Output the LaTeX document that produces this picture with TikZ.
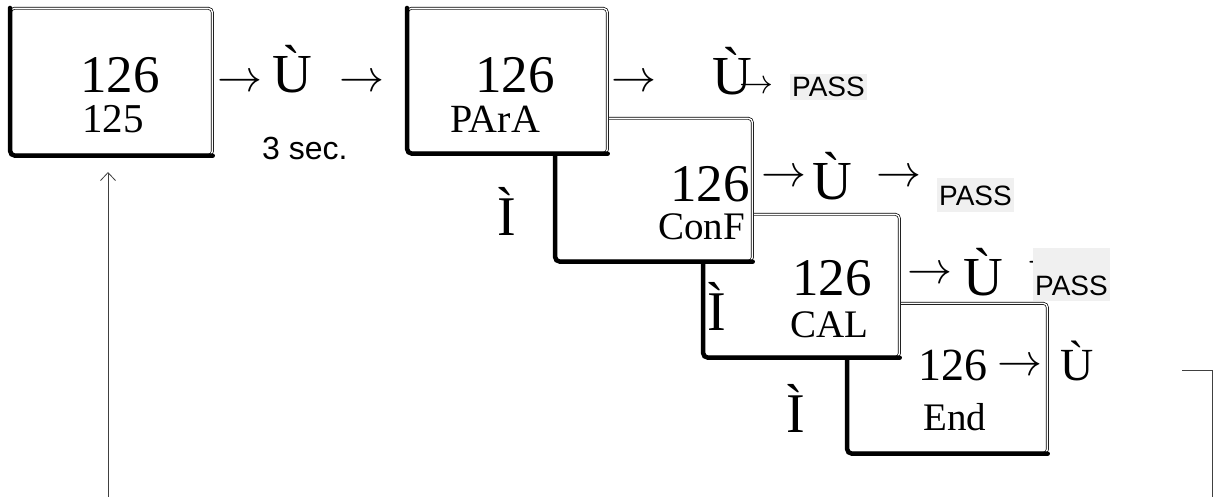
\documentclass[tikz,border=0pt]{standalone}
\usepackage{fix-cm}
\usepackage{fontspec}
\setmainfont{Liberation Serif}
\newfontfamily\labelfont{Liberation Sans}
\usetikzlibrary{arrows.meta}
\definecolor{passgray}{RGB}{240,240,240}

\begin{document}
\begin{tikzpicture}[
    x=1pt, y=-1pt,
    % Define display box style
    display/.style={rectangle, draw, fill=white, double, double distance=1.4pt, line width=0.7pt, rounded corners=4pt, anchor=north west, inner sep=0pt},
    % Define heavy edge style (left and bottom of a box)
    heavy/.style={line width=4.5pt, rounded corners=5pt, line cap=round},
    % Define text styles
    big/.style={inner sep=0pt, anchor=base west, font=\fontsize{53}{53}\selectfont},
    key/.style={inner sep=0pt, anchor=base west, font=\fontsize{55}{55}\selectfont},
    med/.style={inner sep=0pt, anchor=base west, font=\fontsize{46}{46}\selectfont},
    small/.style={inner sep=0pt, anchor=base west, font=\fontsize{39}{39}\selectfont},
    sec/.style={inner sep=0pt, anchor=base west, font=\labelfont\fontsize{32}{32}\selectfont},
    arr/.style={inner sep=0pt, anchor=west, font=\fontsize{45}{45}\selectfont},
    pass/.style={fill=passgray, inner xsep=2pt, inner ysep=0pt, anchor=base west, font=\labelfont\fontsize{28}{28}\selectfont},
    % Define loop line style
    feed/.style={line width=0.8pt, black!75}
]
    \useasboundingbox (0,0) rectangle (1215,497);

    % Boxes (back to front)
    \node[display, minimum width=200pt, minimum height=150pt] (endbox) at (847,303) {};
    \draw[heavy] (endbox.north west) -- (endbox.south west) -- (endbox.south east);
    \node[display, minimum width=196pt, minimum height=143pt] (calbox) at (703,214) {};
    \draw[heavy] (calbox.north west) -- (calbox.south west) -- (calbox.south east);
    \node[display, minimum width=197pt, minimum height=143pt] (confbox) at (555,118) {};
    \draw[heavy] (confbox.north west) -- (confbox.south west) -- (confbox.south east);
    \node[display, minimum width=200pt, minimum height=145pt] (parabox) at (407,8) {};
    \draw[heavy] (parabox.north west) -- (parabox.south west) -- (parabox.south east);
    \node[display, minimum width=202pt, minimum height=147pt] (startbox) at (10,8) {};
    \draw[heavy] (startbox.north west) -- (startbox.south west) -- (startbox.south east);

    % Start display
    \node[big] (startval) at (80,93) {126};
    \node[small, font=\fontsize{41}{41}\selectfont] (startsub) at (82,133) {125};
    \node[arr] (arrA) at (217,83) {$\rightarrow$};
    \node[key] (btnA) at (272,93) {Ù};
    \node[arr] (arrB) at (339,83) {$\rightarrow$};
    \node[sec] (hold) at (262,160) {3 sec.};

    % PArA
    \node[big] (paraval) at (475,93) {126};
    \node[small, font=\fontsize{40}{40}\selectfont] (paralbl) at (450,133) {PArA};
    \node[arr] (arrC) at (611,83) {$\rightarrow$};
    \node[key] (btnC) at (712,95) {Ù};
    \node[arr, font=\fontsize{34}{34}\selectfont] (arrD) at (739,87) {$\rightarrow$};
    \node[pass, text height=23pt, text depth=3pt] (passA) at (790,97) {PASS};

    % ConF
    \node[big] (confval) at (670,202) {126};
    \node[small] (conflbl) at (658,240) {ConF};
    \node[key, font=\fontsize{56}{56}\selectfont] (downA) at (497,235) {Ì};
    \node[arr] (arrE) at (761,178) {$\rightarrow$};
    \node[key] (btnE) at (812,200) {Ù};
    \node[arr] (arrF) at (876,178) {$\rightarrow$};
    \node[pass, text height=28pt, text depth=6pt] (passB) at (937,206) {PASS};

    % CAL
    \node[big] (calval) at (792,295) {126};
    \node[small] (callbl) at (790,337) {CAL};
    \node[key, font=\fontsize{56}{56}\selectfont] (downB) at (707,330) {Ì};
    \node[arr] (arrG) at (907,275) {$\rightarrow$};
    \node[key] (btnG) at (963,295) {Ù};
    \node[arr] (arrH) at (1027,265) {$\rightarrow$};
    \node[pass, text height=47pt, text depth=6pt] (passC) at (1033,295) {PASS};

    % End
    \node[med] (endval) at (918,380) {126};
    \node[arr] (arrI) at (997,367) {$\rightarrow$};
    \node[med] (btnI) at (1060,380) {Ù};
    \node[small] (endlbl) at (923,430) {End};
    \node[key, font=\fontsize{56}{56}\selectfont] (downC) at (786,432) {Ì};

    % Loop back to the start display
    \coordinate (loopout) at (1182,370);
    \coordinate (loopcorner) at (1212,370);
    \coordinate (loopdown) at (1212,497);
    \coordinate (loopin) at (108,497);
    \coordinate (looptip) at (108,172);
    \draw[feed] (loopout) -- (loopcorner) -- (loopdown);
    \draw[feed, -{Straight Barb[length=8pt, width=15pt]}] (loopin) -- (looptip);

\end{tikzpicture}
\end{document}
